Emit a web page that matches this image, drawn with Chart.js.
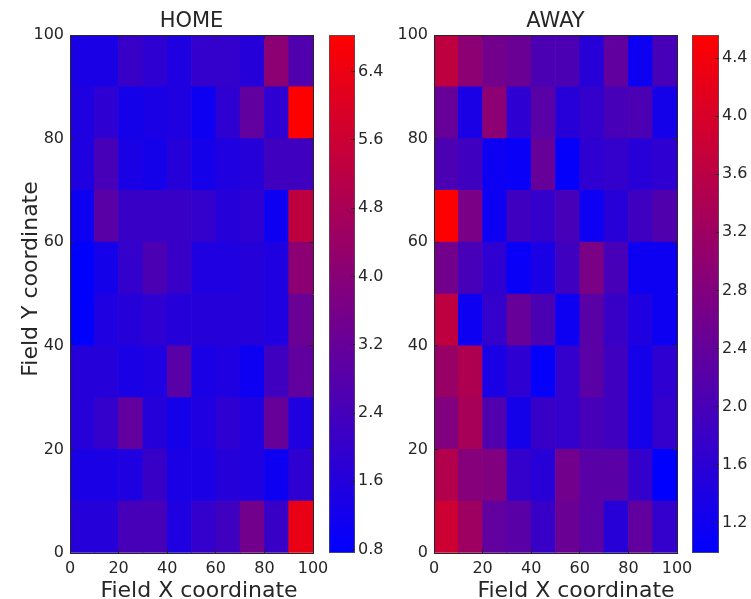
<!DOCTYPE html>
<html>
<head>
<meta charset="utf-8">
<title>Home / Away field heatmaps</title>
<script src="https://cdn.jsdelivr.net/npm/chart.js@4.4.1/dist/chart.umd.min.js"></script>
<style>
  html, body { margin: 0; padding: 0; background: #fff; }
  #wrap { position: relative; width: 751px; height: 599px; overflow: hidden; }
  #wrap canvas { position: absolute; top: 0; }
</style>
</head>
<body>
<div id="wrap">
  <canvas id="homeMap" width="340" height="599" style="left:0px"></canvas>
  <canvas id="homeBar" width="70" height="599" style="left:320px"></canvas>
  <canvas id="awayMap" width="340" height="599" style="left:370px"></canvas>
  <canvas id="awayBar" width="68" height="599" style="left:683px"></canvas>
</div>
<script>
/**************************************************************
 * Data: 10 x 10 bins over the field, rows listed from y = 0 up
 **************************************************************/
const X_BINS = [0, 10, 20, 30, 40, 50, 60, 70, 80, 90, 100];
const Y_BINS = [0, 10, 20, 30, 40, 50, 60, 70, 80, 90, 100];
const FIELD_TICKS = [0, 20, 40, 60, 80, 100];
const HOME_TICKS = [0.8, 1.6, 2.4, 3.2, 4.0, 4.8, 5.6, 6.4];
const AWAY_TICKS = [1.2, 1.6, 2.0, 2.4, 2.8, 3.2, 3.6, 4.0, 4.4];

const HOME_VALUES = [
  [1.67, 1.67, 2.46, 2.46, 1.49, 1.97, 2.28, 3.49, 2.10, 6.34],
  [1.37, 1.37, 1.49, 2.10, 1.37, 1.37, 1.67, 1.49, 1.06, 1.85],
  [1.67, 1.97, 3.07, 1.67, 1.25, 1.49, 1.85, 1.49, 3.19, 1.49],
  [1.67, 1.67, 1.37, 1.49, 2.88, 1.37, 1.49, 1.06, 2.28, 3.07],
  [0.76, 1.49, 1.67, 1.85, 1.67, 1.67, 1.67, 1.67, 1.49, 3.31],
  [0.76, 1.25, 1.97, 2.58, 2.10, 1.49, 1.49, 1.67, 1.49, 4.10],
  [1.06, 2.88, 2.10, 2.10, 2.10, 1.97, 1.67, 1.85, 1.06, 5.31],
  [1.49, 2.46, 1.37, 1.25, 1.67, 1.25, 1.49, 1.67, 2.28, 2.28],
  [1.49, 1.85, 1.25, 1.37, 1.49, 1.06, 1.85, 3.07, 1.85, 6.83],
  [1.37, 1.37, 2.10, 1.85, 1.49, 1.97, 1.97, 1.67, 4.10, 2.70]
];

const AWAY_VALUES = [
  [3.85, 3.20, 2.35, 2.24, 1.78, 2.49, 2.24, 1.53, 2.35, 1.70],
  [3.49, 2.85, 2.78, 1.70, 1.53, 2.60, 2.24, 2.24, 1.70, 0.99],
  [2.78, 3.31, 2.13, 1.28, 1.78, 1.70, 1.99, 1.88, 1.28, 1.70],
  [3.13, 3.42, 1.35, 1.63, 1.06, 1.70, 2.24, 1.88, 1.28, 1.63],
  [3.67, 1.17, 1.70, 2.42, 2.06, 1.17, 2.24, 1.78, 1.42, 1.17],
  [2.60, 1.99, 1.63, 1.10, 1.35, 1.88, 2.70, 1.99, 1.17, 1.17],
  [4.56, 2.70, 1.17, 1.88, 1.70, 1.99, 1.17, 1.53, 1.88, 2.13],
  [2.06, 1.88, 1.17, 1.10, 2.42, 1.06, 1.63, 1.70, 1.53, 1.63],
  [2.42, 1.35, 2.95, 1.63, 2.24, 1.53, 1.70, 1.99, 2.06, 1.28],
  [3.67, 2.95, 2.60, 2.49, 2.06, 2.06, 1.53, 2.35, 1.17, 1.99]
];

/**************************************************************
 * Shared styling
 **************************************************************/
const INK = "#262626";
Chart.defaults.font.family = '"DejaVu Sans", "Bitstream Vera Sans", sans-serif';
Chart.defaults.color = INK;

// Straight blue -> red ramp, t in [0, 1]
function blueRed(t) {
  const k = Math.max(0, Math.min(1, t));
  return `rgb(${Math.round(255 * k)}, 0, ${Math.round(255 * (1 - k))})`;
}

// Free-standing axis captions drawn on the canvas after the chart
function captions(items) {
  return {
    id: "captions",
    afterDraw(chart) {
      const ctx = chart.ctx;
      ctx.save();
      ctx.font = `22px ${Chart.defaults.font.family}`;
      ctx.fillStyle = INK;
      ctx.textAlign = "center";
      ctx.textBaseline = "alphabetic";
      items.forEach(item => {
        ctx.save();
        ctx.translate(item.x, item.y);
        if (item.vertical) ctx.rotate(-Math.PI / 2);
        ctx.fillText(item.text, 0, 0);
        ctx.restore();
      });
      ctx.restore();
    }
  };
}

// Axis with the frame line and inward tick marks (labels optional)
function frameAxis(position, size, showLabels) {
  return {
    type: "linear",
    position,
    min: 0,
    max: 100,
    offset: false,
    grid: { drawOnChartArea: false, offset: false, tickLength: -4, color: INK, lineWidth: 1, z: 1 },
    border: { color: INK, width: 1, z: 1 },
    ticks: {
      display: showLabels,
      color: INK,
      font: { size: 16 },
      padding: position === "bottom" ? 10 : 10
    },
    afterBuildTicks: s => { s.ticks = FIELD_TICKS.map(value => ({ value })); },
    afterFit: s => {
      if (s.isHorizontal()) s.height = size; else s.width = size;
    }
  };
}

/**************************************************************
 * Heatmap: one floating-bar dataset per row of bins
 **************************************************************/
function heatmap(id, title, grid, axisWidth, padRight, labels) {
  const all = grid.flat();
  const lo = Math.min(...all);
  const hi = Math.max(...all);

  const datasets = grid.map((row, r) => ({
    data: row.map((v, c) => ({
      x: (X_BINS[c] + X_BINS[c + 1]) / 2,
      y: [Y_BINS[r], Y_BINS[r + 1]]
    })),
    backgroundColor: row.map(v => blueRed((v - lo) / (hi - lo))),
    borderWidth: 0,
    barPercentage: 1,
    categoryPercentage: 1,
    grouped: false
  }));

  new Chart(document.getElementById(id), {
    type: "bar",
    data: { datasets },
    options: {
      responsive: false,
      animation: false,
      layout: { padding: { left: 0, right: padRight, top: 0, bottom: 0 } },
      plugins: {
        legend: { display: false },
        tooltip: { enabled: false },
        title: {
          display: true,
          text: title,
          fullSize: false,
          color: INK,
          font: { size: 21, weight: "normal", lineHeight: 1.2 },
          padding: { top: 9, bottom: 0.8 }
        }
      },
      scales: {
        x: frameAxis("bottom", 46, true),
        xTop: frameAxis("top", 0, false),
        y: frameAxis("left", axisWidth, true),
        yRight: frameAxis("right", 0, false)
      }
    },
    plugins: [captions(labels)]
  });

  return { lo, hi };
}

/**************************************************************
 * Colour bar: a single floating bar filled with the ramp
 **************************************************************/
function colorbar(id, range, ticks, axisWidth) {
  new Chart(document.getElementById(id), {
    type: "bar",
    data: {
      labels: [""],
      datasets: [{
        data: [[range.lo, range.hi]],
        backgroundColor: ctx => {
          const area = ctx.chart.chartArea;
          if (!area) return blueRed(0);
          const g = ctx.chart.ctx.createLinearGradient(0, area.bottom, 0, area.top);
          g.addColorStop(0, blueRed(0));
          g.addColorStop(1, blueRed(1));
          return g;
        },
        borderColor: "#555",
        borderWidth: 1,
        borderSkipped: false,
        barPercentage: 1,
        categoryPercentage: 1
      }]
    },
    options: {
      responsive: false,
      animation: false,
      layout: { padding: { left: 9, right: 0, top: 35, bottom: 46 } },
      plugins: { legend: { display: false }, tooltip: { enabled: false } },
      scales: {
        x: { display: false },
        y: {
          position: "right",
          min: range.lo,
          max: range.hi,
          grid: { drawOnChartArea: false, tickLength: -4, color: INK, z: 1 },
          border: { display: false },
          ticks: {
            color: INK,
            font: { size: 16 },
            padding: 7,
            callback: v => Number(v).toFixed(1)
          },
          afterBuildTicks: s => { s.ticks = ticks.map(value => ({ value })); },
          afterFit: s => { s.width = axisWidth; }
        }
      }
    }
  });
}

const homeRange = heatmap("homeMap", "HOME", HOME_VALUES, 70, 27, [
  { text: "Field X coordinate", x: 199, y: 597 },
  { text: "Field Y coordinate", x: 37, y: 279, vertical: true }
]);
colorbar("homeBar", homeRange, HOME_TICKS, 35);

const awayRange = heatmap("awayMap", "AWAY", AWAY_VALUES, 64, 33, [
  { text: "Field X coordinate", x: 206, y: 597 }
]);
colorbar("awayBar", awayRange, AWAY_TICKS, 32);
</script>
</body>
</html>
